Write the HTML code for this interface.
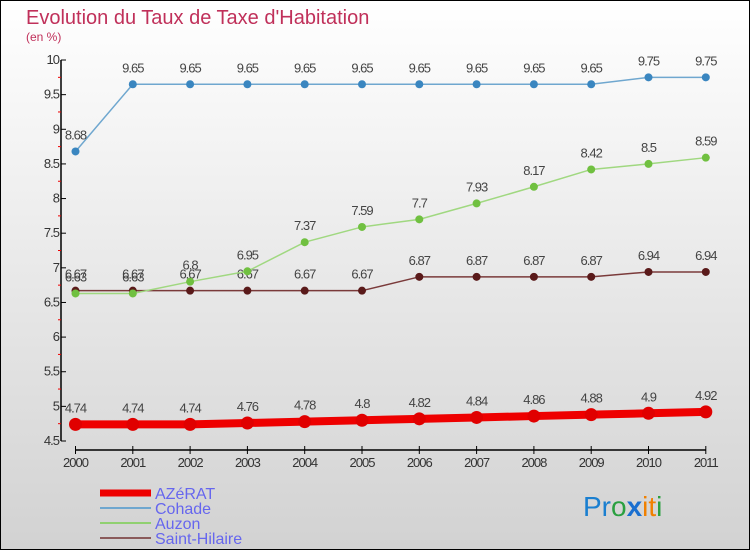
<!DOCTYPE html>
<html><head><meta charset="utf-8"><style>
body{margin:0}
#c{width:750px;height:550px;position:relative;overflow:hidden}
svg text{font-family:"Liberation Sans",sans-serif}
</style></head><body>
<div id="c">
<svg id="s" width="750" height="550" xmlns="http://www.w3.org/2000/svg">
<defs><linearGradient id="bg" x1="0" y1="0" x2="0" y2="1"><stop offset="0" stop-color="#ffffff"/><stop offset="1" stop-color="#d2d2d2"/></linearGradient></defs>
<rect x="0.5" y="0.5" width="749" height="549" fill="url(#bg)" stroke="#000"/>
<text x="26" y="24" font-size="20" fill="#c0305a">Evolution du Taux de Taxe d'Habitation</text>
<text x="26" y="41" font-size="12" fill="#c0305a">(en %)</text>
<g id="axes"></g><g id="series"></g>
<g>
<line x1="100" y1="493" x2="151" y2="493" stroke="#ee0000" stroke-width="7"/>
<text x="155" y="499" font-size="16" fill="#6666ee">AZéRAT</text>
<line x1="100" y1="508" x2="151" y2="508" stroke="#6fa7cf" stroke-width="2"/>
<text x="155" y="514" font-size="16" fill="#6666ee">Cohade</text>
<line x1="100" y1="523" x2="151" y2="523" stroke="#90d070" stroke-width="2"/>
<text x="155" y="529" font-size="16" fill="#6666ee">Auzon</text>
<line x1="100" y1="538" x2="151" y2="538" stroke="#8a5a5a" stroke-width="2"/>
<text x="155" y="544" font-size="16" fill="#6666ee">Saint-Hilaire</text>
</g>
<text x="583" y="516" font-size="28"><tspan fill="#1a7fd0">Pr</tspan><tspan fill="#2aa040">o</tspan><tspan fill="#1a6fd0" font-weight="bold">x</tspan><tspan fill="#f08000">i</tspan><tspan fill="#f08000">t</tspan><tspan fill="#2aa040">i</tspan></text>
</svg></div>
<script>
const years=["2000","2001","2002","2003","2004","2005","2006","2007","2008","2009","2010","2011"];
const azerat=[4.74,4.74,4.74,4.76,4.78,4.8,4.82,4.84,4.86,4.88,4.9,4.92];
const cohade=[8.68,9.65,9.65,9.65,9.65,9.65,9.65,9.65,9.65,9.65,9.75,9.75];
const auzon=[6.63,6.63,6.8,6.95,7.37,7.59,7.7,7.93,8.17,8.42,8.5,8.59];
const hilaire=[6.67,6.67,6.67,6.67,6.67,6.67,6.87,6.87,6.87,6.87,6.94,6.94];
const yTicks=[4.5,5,5.5,6,6.5,7,7.5,8,8.5,9,9.5,10];
const NS="http://www.w3.org/2000/svg";
const X=i=>75.5+i*57.3;
const Y=v=>441-(v-4.5)*69.27;
function mk(t,a,p){const e=document.createElementNS(NS,t);for(const k in a)e.setAttribute(k,a[k]);p.appendChild(e);return e;}
const ax=document.getElementById('axes'),se=document.getElementById('series');
let l=mk('line',{x1:61,y1:Y(10),x2:61,y2:Y(4.5),stroke:'#000','stroke-width':1.5},ax);


yTicks.forEach((v,k)=>{let t=mk('line',{x1:61,y1:Y(v),x2:66,y2:Y(v),stroke:'#000'},ax);


if(k<yTicks.length-1){let m=mk('line',{x1:58,y1:Y(v+0.25),x2:61,y2:Y(v+0.25),stroke:'#e00'},ax);

}
let tx=mk('text',{x:59,y:Y(v)+4,'font-size':13,fill:'#333','text-anchor':'end','letter-spacing':'-1'},ax);tx.textContent=String(v);

});
l=mk('line',{x1:X(0),y1:450,x2:X(11),y2:450,stroke:'#000','stroke-width':1.5},ax);


years.forEach((y,i)=>{let t=mk('line',{x1:X(i),y1:446,x2:X(i),y2:454,stroke:'#000'},ax);


let tx=mk('text',{x:X(i),y:467,'font-size':13,fill:'#333','text-anchor':'middle','letter-spacing':'-1'},ax);tx.textContent=y;

});
function series(d,name,col,dot,w,r){const g=mk('g',{},se);


let p=mk('polyline',{points:d.map((v,i)=>X(i)+','+Y(v)).join(' '),fill:'none',stroke:col,'stroke-width':w},g);


d.forEach((v,i)=>{let c=mk('circle',{cx:X(i),cy:Y(v),r:r,fill:dot},g);


let tx=mk('text',{x:X(i),y:Y(v)-12,'font-size':13,fill:'#444','text-anchor':'middle','letter-spacing':'-1'},g);tx.textContent=String(v);

});}
series(hilaire,'saint-hilaire','#7a3a3a','#5a1a1a',1.5,4);
series(auzon,'auzon','#a0d880','#70c040',1.5,4);
series(cohade,'cohade','#6fa7cf','#3a86c0',1.5,4);
series(azerat,'azerat','#ee0000','#e00000',8,6.5);
</script></body></html>
